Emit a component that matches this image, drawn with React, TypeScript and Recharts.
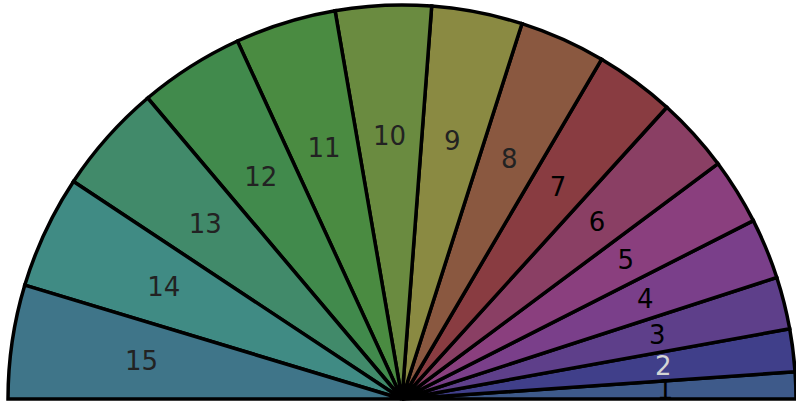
import React from "react";
import { PieChart, Pie, Cell } from "recharts";

const categories = ["1", "2", "3", "4", "5", "6", "7", "8", "9", "10", "11", "12", "13", "14", "15"];
const values = [3.96, 6.3, 7.7, 8.95, 9.75, 11.1, 11.8, 12.7, 13.4, 14.1, 14.9, 15.5, 16.3, 16.7, 16.8];
const sliceColors = [
  "#3e5a8a", "#403f8a", "#5e3f8a", "#7a3f8a", "#8a3f7e",
  "#8a3f64", "#893c41", "#8a5840", "#8a8a42", "#6a8b40",
  "#4a8b41", "#418a4c", "#418a6a", "#408b84", "#3f7589",
];
const labelColors = [
  "#000000", "#d4d4d4", "#000000", "#000000", "#000000",
  "#000000", "#000000", "#222222", "#222222", "#222222",
  "#222222", "#222222", "#222222", "#222222", "#222222",
];

const data = categories.map((name, i) => ({ name, value: values[i] }));
const RADIAN = Math.PI / 180;

const renderLabel = (props: any) => {
  const { cx, cy, midAngle, outerRadius, index } = props;
  const r = outerRadius * 0.668;
  const x = cx + r * Math.cos(-midAngle * RADIAN);
  const y = cy + r * Math.sin(-midAngle * RADIAN);
  return (
    <text
      x={x}
      y={y}
      fill={labelColors[index]}
      textAnchor="middle"
      dominantBaseline="central"
      fontFamily="DejaVu Sans"
      fontSize={26}
    >
      {categories[index]}
    </text>
  );
};

export default function App() {
  return (
    <div style={{ position: "absolute", left: 0, top: 0, width: 796, height: 403, background: "#fff" }}>
      <PieChart width={796} height={403} margin={{ top: 0, right: 0, bottom: 0, left: 0 }}>
        <Pie
          data={data}
          dataKey="value"
          nameKey="name"
          cx={402}
          cy={399}
          innerRadius={0}
          outerRadius={394}
          startAngle={0}
          endAngle={180}
          paddingAngle={0}
          stroke="#000000"
          strokeWidth={3.5}
          label={renderLabel}
          labelLine={false}
          isAnimationActive={false}
        >
          {data.map((d, i) => (
            <Cell key={d.name} fill={sliceColors[i]} stroke="#000000" strokeWidth={3.5} />
          ))}
        </Pie>
      </PieChart>
    </div>
  );
}
